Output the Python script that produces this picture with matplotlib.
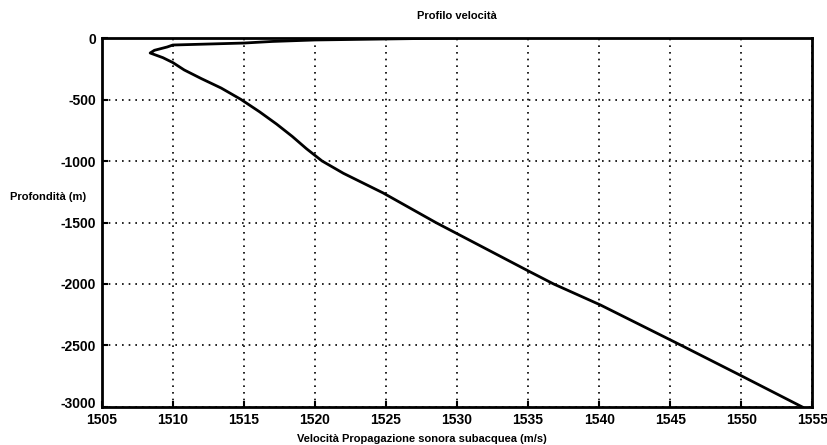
import matplotlib
matplotlib.use("Agg")
import matplotlib.pyplot as plt
from matplotlib.transforms import ScaledTranslation

# Profilo di velocità del suono
velocita = [1530, 1525, 1520, 1517, 1515, 1510, 1509.6, 1508.7, 1508.4,
            1509.3, 1510.0, 1510.8, 1512.0, 1513.4, 1514.8, 1516.1, 1517.3,
            1518.4, 1519.4, 1520.5, 1522.0, 1524.8, 1528.5, 1534.9, 1536.8,
            1540.1, 1545.8, 1549.9, 1554.3]
profondita = [0, -8, -16, -28, -41, -57, -73, -100, -122,
              -160, -200, -260, -330, -407, -500, -600, -700,
              -800, -900, -1000, -1100, -1260, -1500, -1887, -2000,
              -2171, -2500, -2740, -3000]

x_ticks = [1505, 1510, 1515, 1520, 1525, 1530, 1535, 1540, 1545, 1550, 1555]
y_ticks = [0, -500, -1000, -1500, -2000, -2500, -3000]

plt.rcParams["font.family"] = ["Liberation Sans", "DejaVu Sans"]
plt.rcParams["axes.unicode_minus"] = False

fig = plt.figure(figsize=(8.28, 4.45), dpi=100)
ax = fig.add_axes([0.123, 0.0854, 0.858, 0.8292])

ax.plot(velocita, profondita, color="black", linewidth=2)

ax.set_xlim(1505, 1555)
ax.set_ylim(-3000, 0)
ax.set_xticks(x_ticks)
ax.set_yticks(y_ticks)
ax.grid(True, color="black", linestyle=(0, (1, 3)), linewidth=1.2)
ax.tick_params(direction="in", length=4, width=1.5, labelsize=10,
               top=False, right=False)
ax.tick_params(axis="x", pad=4)
ax.tick_params(axis="y", pad=4)
for lab in ax.get_xticklabels() + ax.get_yticklabels():
    lab.set_fontweight("bold")
for s in ax.spines.values():
    s.set_linewidth(2)

# alza un poco l'etichetta -3000 come nell'originale
ylabs = ax.get_yticklabels()
ylabs[-1].set_transform(ylabs[-1].get_transform() +
                        ScaledTranslation(0, 3 / 72, fig.dpi_scale_trans))

ax.set_title("Profilo velocità", fontsize=8, fontweight="bold", pad=14)
ax.set_xlabel("Velocità Propagazione sonora subacquea (m/s)", fontsize=8,
              fontweight="bold")
ax.xaxis.set_label_coords(0.45, -0.072)
ax.set_ylabel("Profondità (m)", fontsize=8, fontweight="bold", rotation=0)
ax.yaxis.set_label_coords(-0.075, 0.555)

fig.savefig("out.png", dpi=100)
plt.close(fig)
